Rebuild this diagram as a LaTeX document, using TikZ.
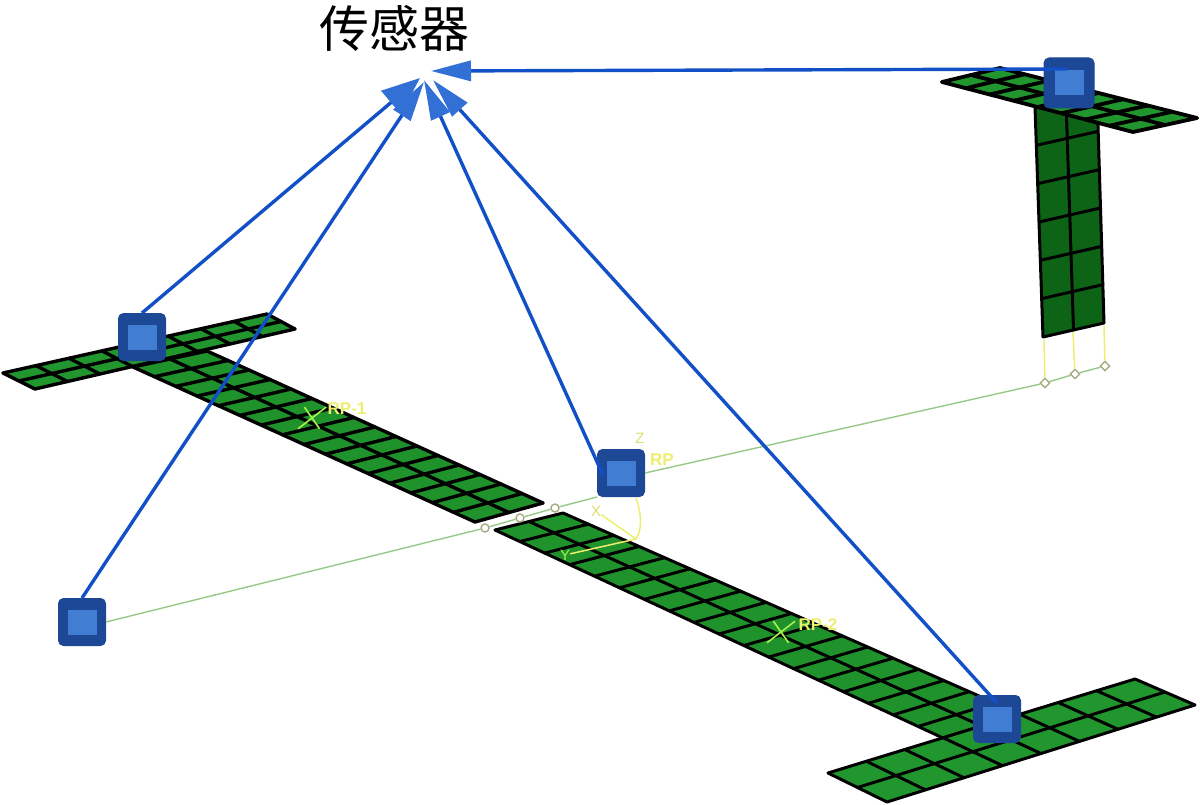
\documentclass[tikz,border=0pt]{standalone}
\usepackage{fontspec}
\newfontfamily\cjk{Noto Sans CJK SC}
\setsansfont{Liberation Sans}
\usetikzlibrary{calc,arrows.meta,shapes.geometric,shapes.misc}
\definecolor{flangegreen}{RGB}{34,150,46}
\definecolor{webgreen}{RGB}{32,146,44}
\definecolor{darkgreen}{RGB}{14,100,22}
\definecolor{sensorout}{RGB}{28,72,150}
\definecolor{sensorin}{RGB}{66,125,212}
\definecolor{wire}{RGB}{18,80,200}
\definecolor{headblue}{RGB}{50,112,214}
\definecolor{thinline}{RGB}{150,200,135}
\definecolor{axisyellow}{RGB}{238,238,110}
\definecolor{pointgray}{RGB}{170,170,130}
\newcommand{\meshpatch}[7]{%
  \coordinate (pa) at #1; \coordinate (pb) at #2; \coordinate (pc) at #3; \coordinate (pd) at #4;
  \fill[#7,rounded corners=0.5pt] (pa)--(pb)--(pc)--(pd)--cycle;
  \foreach \i in {0,...,#5}{
    \pgfmathsetmacro{\t}{\i/#5}
    \draw[meshline] ($(pa)!\t!(pb)$) -- ($(pd)!\t!(pc)$);
  }
  \foreach \j in {0,...,#6}{
    \pgfmathsetmacro{\t}{\j/#6}
    \draw[meshline] ($(pa)!\t!(pd)$) -- ($(pb)!\t!(pc)$);
  }
}
\tikzset{
  meshline/.style={black,line width=3pt,line cap=round},
  sensor/.style={draw=sensorout,fill=sensorout,line width=1pt,rounded corners=5pt,minimum size=47pt,inner sep=0pt,
    path picture={\fill[sensorin,sharp corners] ([xshift=-14.5pt,yshift=-12.5pt]path picture bounding box.center) rectangle ([xshift=14.5pt,yshift=12.5pt]path picture bounding box.center);}},
  link/.style={wire,line width=3.4pt},
  bighead/.style={-{Triangle[length=38pt,width=30pt,color=headblue,fill=headblue]}},
  midhead/.style={-{Triangle[length=40pt,width=20pt,color=headblue,fill=headblue]}},
  thin line/.style={thinline,line width=1.4pt},
  axis/.style={axisyellow,line width=1.5pt},
  rplabel/.style={text=axisyellow,font=\sffamily\bfseries\fontsize{17}{17}\selectfont,inner sep=0pt},
  rpmark/.style={cross out,draw=axisyellow!70!green,line width=1.6pt,minimum size=20pt,inner sep=0pt,xslant=0.3},
  hinge/.style={diamond,draw=pointgray,fill=white,line width=1.4pt,minimum size=10pt,inner sep=0pt},
  pin/.style={circle,draw=pointgray,fill=white,line width=1.4pt,minimum size=8pt,inner sep=0pt},
}
\begin{document}
\begin{tikzpicture}[x=1pt,y=-1pt]
\useasboundingbox (0,0) rectangle (1200,805);
% meshes
\begin{scope}[meshline/.append style={line width=3.4pt}]
\meshpatch{(207,351)}{(543,503)}{(475,522)}{(133,367)}{16}{2}{webgreen}
\meshpatch{(3,373)}{(267,314)}{(295,329)}{(35,389)}{8}{2}{flangegreen}
\end{scope}
\meshpatch{(563,513)}{(1020,714)}{(943,738)}{(495,530)}{18}{2}{webgreen}
\meshpatch{(828,773)}{(1135,679)}{(1195,705)}{(887,802)}{8}{2}{flangegreen}
\meshpatch{(1035,107)}{(1097,93)}{(1104,323)}{(1043,337)}{2}{6}{darkgreen}
\begin{scope}[meshline/.append style={line width=3.8pt}]
\meshpatch{(1000,68)}{(1197,118)}{(1133,132)}{(942,82)}{8}{2}{flangegreen}
\end{scope}
% points on the thin line
\node[hinge] (h1) at (1045,383) {};
\node[hinge] (h2) at (1075,374) {};
\node[hinge] (h3) at (1105,366) {};
\node[pin] (p1) at (485,528) {};
\node[pin] (p2) at (520,518) {};
\node[pin] (p3) at (555,508) {};
\coordinate (w1) at (1044,340);
\coordinate (w2) at (1073,332);
\coordinate (w3) at (1104,326);
\draw[axis] (w1) -- (h1);
\draw[axis] (w2) -- (h2);
\draw[axis] (w3) -- (h3);
% sensors
\node[sensor] (s1) at (142,337) {};
\node[sensor] (s2) at (82,622) {};
\node[sensor] (s3) at (621,473) {};
\node[sensor,minimum size=50pt] (s4) at (1069,83) {};
\node[sensor] (s5) at (997,719) {};
% thin line
\draw[thin line] (s2.east) -- (p1) -- (p2) -- (p3) -- (s3.south west);
\draw[thin line] (s3.east) -- (h1) -- (h2) -- (h3);
% local axes
\coordinate (og) at (636,539);
\node[text=axisyellow!85!gray,font=\sffamily\fontsize{15}{15}\selectfont,inner sep=0pt] (zl) at (640,438) {Z};
\node[text=axisyellow!85!gray,font=\sffamily\fontsize{15}{15}\selectfont,inner sep=0pt] (xl) at (596,511) {X};
\node[text=axisyellow!70!green,font=\sffamily\fontsize{15}{15}\selectfont,inner sep=0pt] (yl) at (565,555) {Y};
\node[rplabel] (r3) at (662,460) {RP};
\coordinate (zb) at (636,498);
\draw[axis] (zb) .. controls (642,515) and (642,530) .. (og);
\draw[axis] (xl) -- (og);
\draw[axis] (yl) -- (og);
\node[rpmark] (m1) at (312,418) {};
\node[rplabel] (r1) at (347,409) {RP-1};
\node[rpmark] (m2) at (781,632) {};
\node[rplabel] (r2) at (818,625) {RP-2};
% title and links
\node[font=\cjk\fontsize{50}{50}\selectfont,inner sep=0pt] (title) at (394,28) {传感器};
\coordinate (t1) at (420,78);
\coordinate (t2) at (424,82);
\coordinate (t3) at (424,80);
\coordinate (t4) at (431,71);
\coordinate (t5) at (433,80);
\coordinate (a3) at (603,475);
\coordinate (a4) at (1067,69);
\coordinate (a5) at (997,703);
\draw[link,bighead] (s1.north) -- (t1);
\draw[link,midhead] (s2.north) -- (t2);
\draw[link,midhead] (a3) -- (t3);
\draw[link,midhead] (a5) -- (t5);
\draw[link,midhead] (a4) -- (t4);
\end{tikzpicture}
\end{document}
